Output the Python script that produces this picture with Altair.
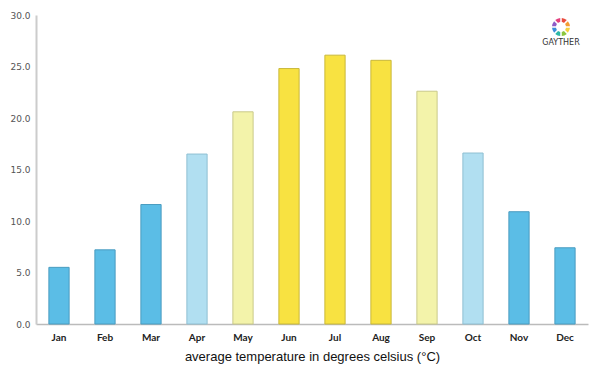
import altair as alt
import pandas as pd

months = ["Jan", "Feb", "Mar", "Apr", "May", "Jun", "Jul", "Aug", "Sep", "Oct", "Nov", "Dec"]
temps = [5.5, 7.2, 11.6, 16.5, 20.6, 24.8, 26.1, 25.6, 22.6, 16.6, 10.9, 7.4]
groups = ["cold", "cold", "cold", "cool", "mild", "warm", "warm", "warm", "mild", "cool", "cold", "cold"]

group_names = ["cold", "cool", "mild", "warm"]
fill_colors = ["#5BBDE6", "#B1DFF1", "#F3F3AA", "#F8E241"]
stroke_colors = ["#4A9CC0", "#8FBFD2", "#C9C98A", "#C9B83A"]

logo_segments = ["a", "b", "c", "d", "e", "f", "g", "h"]
logo_colors = ["#E94B3C", "#F39C32", "#F4D03F", "#8CC63F", "#2EB8A6", "#3C8DD9", "#8E5BC6", "#E2407F"]

df = pd.DataFrame({"month": months, "temp": temps, "group": groups})

bars = alt.Chart(df).mark_bar(strokeWidth=1).encode(
    x=alt.X("month:N", sort=months,
            scale=alt.Scale(paddingInner=0.56, paddingOuter=0.28),
            axis=alt.Axis(title="average temperature in degrees celsius (°C)",
                          labelAngle=0, labelColor="#222", labelFontSize=10,
                          labelFont="Lato", labelFontWeight="bold", labelPadding=8,
                          ticks=False, domainColor="#BBBBBB", domainWidth=1.5,
                          titleFont="Liberation Sans", titleFontSize=13,
                          titleFontWeight="normal", titleColor="#111", titlePadding=8)),
    y=alt.Y("temp:Q", scale=alt.Scale(domain=[0, 30]),
            axis=alt.Axis(title=None, values=[0, 5, 10, 15, 20, 25, 30], format=".1f",
                          grid=False, ticks=False, labelColor="#555", labelFontSize=9,
                          labelFont="DejaVu Sans", labelPadding=6,
                          domainColor="#CCCCCC", domainWidth=2)),
    color=alt.Color("group:N", scale=alt.Scale(domain=group_names, range=fill_colors), legend=None),
    stroke=alt.Stroke("group:N", scale=alt.Scale(domain=group_names, range=stroke_colors), legend=None),
)

logo_ring = alt.Chart(pd.DataFrame({"seg": logo_segments, "v": [1] * len(logo_segments)})).mark_arc(
    radius=9, radius2=5, padAngle=0.15
).encode(
    theta=alt.Theta("v:Q", stack=True),
    color=alt.Color("seg:N", scale=alt.Scale(domain=logo_segments, range=logo_colors), legend=None),
    x=alt.value(525), y=alt.value(12),
)

logo = alt.Chart(pd.DataFrame({"t": ["GAYTHER"]})).mark_text(
    fontSize=8, font="DejaVu Sans", color="#333", align="center"
).encode(x=alt.value(525), y=alt.value(28), text="t:N")

chart = alt.layer(bars, logo_ring, logo).resolve_scale(color="independent").properties(
    width=552, height=309,
    autosize=alt.AutoSizeParams(type="none"),
    padding={"left": 28, "top": 7, "right": 4, "bottom": 50},
).configure_view(stroke=None)

chart.save("out.html", embed_options={"renderer": "svg", "actions": False})
